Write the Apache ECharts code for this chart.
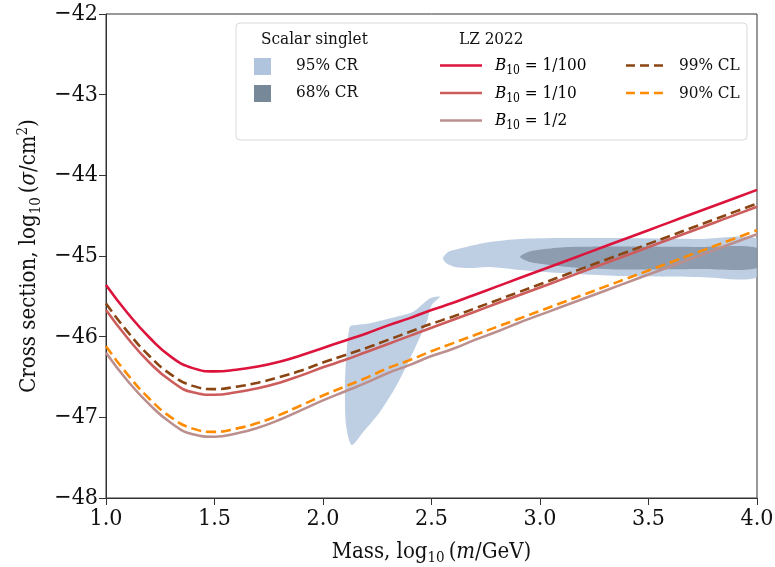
<!DOCTYPE html>
<html>
<head>
<meta charset="utf-8">
<script src="https://cdn.jsdelivr.net/npm/echarts@6/dist/echarts.min.js"></script>
<style>
  html, body { margin: 0; padding: 0; background: #fff; }
  #chart { width: 775px; height: 567px; }
</style>
</head>
<body>
<div id="chart"></div>
<script>
// Mass grid, log10(m/GeV)
const massGrid = [1.0, 1.1, 1.2, 1.3, 1.4, 1.5, 1.6, 1.7, 1.8, 1.9, 2.0, 2.1, 2.2, 2.3, 2.4, 2.5, 2.6, 2.7, 2.8, 2.9, 3.0, 3.1, 3.2, 3.3, 3.4, 3.5, 3.6, 3.7, 3.8, 3.9, 4.0];

// LZ 2022 limits, log10(sigma/cm^2)
const lzB100 = [-45.36, -45.71, -46.01, -46.25, -46.39, -46.43, -46.41, -46.37, -46.31, -46.23, -46.14, -46.05, -45.96, -45.86, -45.77, -45.67, -45.58, -45.48, -45.38, -45.28, -45.18, -45.08, -44.98, -44.88, -44.78, -44.68, -44.58, -44.48, -44.38, -44.28, -44.18];
const lzB10  = [-45.67, -46.02, -46.32, -46.55, -46.69, -46.72, -46.69, -46.64, -46.57, -46.48, -46.38, -46.29, -46.19, -46.09, -45.99, -45.89, -45.79, -45.69, -45.59, -45.49, -45.39, -45.29, -45.19, -45.09, -44.99, -44.89, -44.79, -44.69, -44.59, -44.49, -44.39];
const lzB2   = [-46.20, -46.55, -46.84, -47.07, -47.21, -47.24, -47.20, -47.13, -47.03, -46.91, -46.79, -46.68, -46.57, -46.45, -46.35, -46.24, -46.15, -46.04, -45.94, -45.83, -45.73, -45.63, -45.53, -45.43, -45.33, -45.23, -45.13, -45.03, -44.93, -44.83, -44.73];
const lzCL99 = [-45.59, -45.94, -46.24, -46.47, -46.61, -46.65, -46.62, -46.57, -46.50, -46.42, -46.32, -46.23, -46.14, -46.04, -45.94, -45.84, -45.75, -45.65, -45.55, -45.45, -45.35, -45.25, -45.15, -45.05, -44.95, -44.85, -44.75, -44.65, -44.55, -44.45, -44.35];
const lzCL90 = [-46.12, -46.47, -46.77, -47.00, -47.14, -47.18, -47.14, -47.07, -46.97, -46.85, -46.73, -46.62, -46.51, -46.39, -46.29, -46.18, -46.08, -45.98, -45.88, -45.78, -45.68, -45.58, -45.48, -45.38, -45.28, -45.18, -45.08, -44.98, -44.88, -44.78, -44.68];

// Scalar singlet credible regions (outline vertices)
const wedge95Mass  = [2.124, 2.109, 2.101, 2.106, 2.132, 2.186, 2.263, 2.340, 2.416, 2.478, 2.501, 2.539, 2.493, 2.416, 2.309, 2.217, 2.155];
const wedge95Sigma = [-45.876, -46.186, -46.599, -47.095, -47.343, -47.178, -46.930, -46.599, -46.186, -45.814, -45.607, -45.504, -45.524, -45.690, -45.772, -45.834, -45.855];
const band95Mass  = [2.553, 2.576, 2.622, 2.677, 2.770, 2.908, 3.092, 3.369, 3.737, 4.0, 4.0, 3.737, 3.369, 3.092, 2.908, 2.770, 2.677, 2.608, 2.567];
const band95Sigma = [-45.025, -44.950, -44.913, -44.876, -44.826, -44.789, -44.777, -44.777, -44.789, -44.789, -45.260, -45.260, -45.248, -45.211, -45.173, -45.136, -45.149, -45.136, -45.087];
const core68Mass  = [2.908, 2.945, 3.023, 3.138, 3.369, 3.737, 4.0, 4.0, 3.737, 3.369, 3.184, 3.046, 2.954];
const core68Sigma = [-45.012, -44.950, -44.913, -44.888, -44.882, -44.888, -44.901, -45.149, -45.161, -45.167, -45.149, -45.111, -45.074];

// Axis ticks
const massTicks = [1.0, 1.5, 2.0, 2.5, 3.0, 3.5, 4.0];
const sigmaTicks = [-48, -47, -46, -45, -44, -43, -42];

const FONT = "'DejaVu Serif Condensed', 'DejaVu Serif', serif";
const INK = '#111';

const chart = echarts.init(document.getElementById('chart'), null, { renderer: 'canvas' });

function regionSeries(name, xs, ys, fill) {
  return {
    type: 'custom',
    name: name,
    coordinateSystem: 'cartesian2d',
    clip: true,
    silent: true,
    z: 1,
    data: [[xs[0], ys[0]]],
    encode: { x: 0, y: 1 },
    renderItem: function (params, api) {
      const pts = xs.map((x, i) => api.coord([x, ys[i]]));
      return {
        type: 'polygon',
        shape: { points: pts, smooth: 0.25 },
        style: { fill: fill, stroke: null }
      };
    }
  };
}

function limitSeries(name, ys, color, dashed) {
  return {
    type: 'line',
    name: name,
    data: massGrid.map((x, i) => [x, ys[i]]),
    smooth: 0.5,
    showSymbol: false,
    silent: true,
    z: dashed ? 4 : 3,
    lineStyle: { color: color, width: 2.6, type: dashed ? [10, 5] : 'solid', cap: 'butt' }
  };
}

const C = {
  b100: '#dc143c', b10: '#cd5c5c', b2: '#bc8f8f', cl99: '#8b4513', cl90: '#ff8c00',
  cr95: 'rgba(176,196,222,0.82)', cr68: 'rgba(119,136,153,0.7)',
  cr95Key: '#b0c4de', cr68Key: '#778899'
};

const richBase = {
  n: { fontFamily: FONT, fontSize: 22, color: INK, lineHeight: 28 },
  i: { fontFamily: FONT, fontSize: 22, color: INK, fontStyle: 'italic', lineHeight: 28 },
  s: { fontFamily: FONT, fontSize: 15, color: INK, verticalAlign: 'bottom', lineHeight: 12 },
  p: { fontFamily: FONT, fontSize: 15, color: INK, verticalAlign: 'top', lineHeight: 10 }
};

const legRich = {
  n: { fontFamily: FONT, fontSize: 17, color: INK, lineHeight: 22 },
  i: { fontFamily: FONT, fontSize: 17, color: INK, fontStyle: 'italic', lineHeight: 22 },
  s: { fontFamily: FONT, fontSize: 12, color: INK, verticalAlign: 'bottom', lineHeight: 8 }
};

// Legend drawn as graphic elements
const legendFont = '17px ' + FONT;
const legend = [
  { type: 'rect', shape: { x: 236, y: 23, width: 511, height: 117, r: 4 },
    style: { fill: 'rgba(255,255,255,0.85)', stroke: '#d9d9d9', lineWidth: 1 }, z: 100 },
  { type: 'text', x: 261, y: 40, style: { text: 'Scalar singlet', font: legendFont, fill: INK, verticalAlign: 'middle' }, z: 101 },
  { type: 'text', x: 459, y: 40, style: { text: 'LZ 2022', font: legendFont, fill: INK, verticalAlign: 'middle' }, z: 101 },
  { type: 'rect', shape: { x: 254, y: 58, width: 17, height: 17 }, style: { fill: C.cr95Key }, z: 101 },
  { type: 'text', x: 296, y: 66, style: { text: '95% CR', font: legendFont, fill: INK, verticalAlign: 'middle' }, z: 101 },
  { type: 'rect', shape: { x: 254, y: 85, width: 17, height: 17 }, style: { fill: C.cr68Key }, z: 101 },
  { type: 'text', x: 296, y: 93, style: { text: '68% CR', font: legendFont, fill: INK, verticalAlign: 'middle' }, z: 101 },
  { type: 'line', shape: { x1: 440, y1: 65.5, x2: 482, y2: 65.5 }, style: { stroke: C.b100, lineWidth: 2.6 }, z: 101 },
  { type: 'line', shape: { x1: 440, y1: 93, x2: 482, y2: 93 }, style: { stroke: C.b10, lineWidth: 2.6 }, z: 101 },
  { type: 'line', shape: { x1: 440, y1: 120.5, x2: 482, y2: 120.5 }, style: { stroke: C.b2, lineWidth: 2.6 }, z: 101 },
  { type: 'text', x: 495, y: 66, style: { text: '{i|B}{s|10}{n| = 1/100}', rich: legRich, verticalAlign: 'middle' }, z: 101 },
  { type: 'text', x: 495, y: 93.5, style: { text: '{i|B}{s|10}{n| = 1/10}', rich: legRich, verticalAlign: 'middle' }, z: 101 },
  { type: 'text', x: 495, y: 121, style: { text: '{i|B}{s|10}{n| = 1/2}', rich: legRich, verticalAlign: 'middle' }, z: 101 },
  { type: 'line', shape: { x1: 626, y1: 65.5, x2: 664, y2: 65.5 }, style: { stroke: C.cl99, lineWidth: 2.6, lineDash: [9, 5] }, z: 101 },
  { type: 'line', shape: { x1: 626, y1: 93, x2: 664, y2: 93 }, style: { stroke: C.cl90, lineWidth: 2.6, lineDash: [9, 5] }, z: 101 },
  { type: 'text', x: 679, y: 66, style: { text: '99% CL', font: legendFont, fill: INK, verticalAlign: 'middle' }, z: 101 },
  { type: 'text', x: 679, y: 93.5, style: { text: '90% CL', font: legendFont, fill: INK, verticalAlign: 'middle' }, z: 101 }
];

const option = {
  backgroundColor: '#fff',
  animation: false,
  grid: {
    left: 106, right: 18, top: 14, bottom: 69,
    containLabel: false, outerBoundsMode: 'none',
    show: true, borderColor: '#333', borderWidth: 1, backgroundColor: 'transparent'
  },
  xAxis: {
    type: 'value',
    min: massTicks[0], max: massTicks[massTicks.length - 1], interval: 0.5,
    name: '{n|Mass, log}{s|10}{n|\u2009(}{i|m}{n|/GeV)}',
    nameLocation: 'middle', nameGap: 40,
    nameTextStyle: { rich: richBase },
    axisLine: { show: true, lineStyle: { color: '#333', width: 1 } },
    axisTick: { show: true, inside: false, length: 7, lineStyle: { color: '#333' } },
    axisLabel: { fontFamily: FONT, fontSize: 23, color: INK, margin: 10, formatter: v => v.toFixed(1) },
    splitLine: { show: false }
  },
  yAxis: {
    type: 'value',
    min: sigmaTicks[0], max: sigmaTicks[sigmaTicks.length - 1], interval: 1,
    name: '{n|Cross section, log}{s|10}{n|\u2009(}{i|\u03c3}{n|/cm}{p|2}{n|)}',
    nameLocation: 'middle', nameGap: 60,
    nameTextStyle: { rich: richBase },
    axisLine: { show: true, lineStyle: { color: '#333', width: 1 } },
    axisTick: { show: true, inside: false, length: 7, lineStyle: { color: '#333' } },
    axisLabel: { fontFamily: FONT, fontSize: 23, color: INK, margin: 8, formatter: v => (v < 0 ? '\u2212' : '') + Math.abs(v) },
    splitLine: { show: false }
  },
  graphic: legend,
  series: [
    regionSeries('95% CR wedge', wedge95Mass, wedge95Sigma, C.cr95),
    regionSeries('95% CR band', band95Mass, band95Sigma, C.cr95),
    regionSeries('68% CR', core68Mass, core68Sigma, C.cr68),
    limitSeries('B10 = 1/2', lzB2, C.b2, false),
    limitSeries('B10 = 1/10', lzB10, C.b10, false),
    limitSeries('B10 = 1/100', lzB100, C.b100, false),
    limitSeries('90% CL', lzCL90, C.cl90, true),
    limitSeries('99% CL', lzCL99, C.cl99, true)
  ]
};

chart.setOption(option);
</script>
</body>
</html>
